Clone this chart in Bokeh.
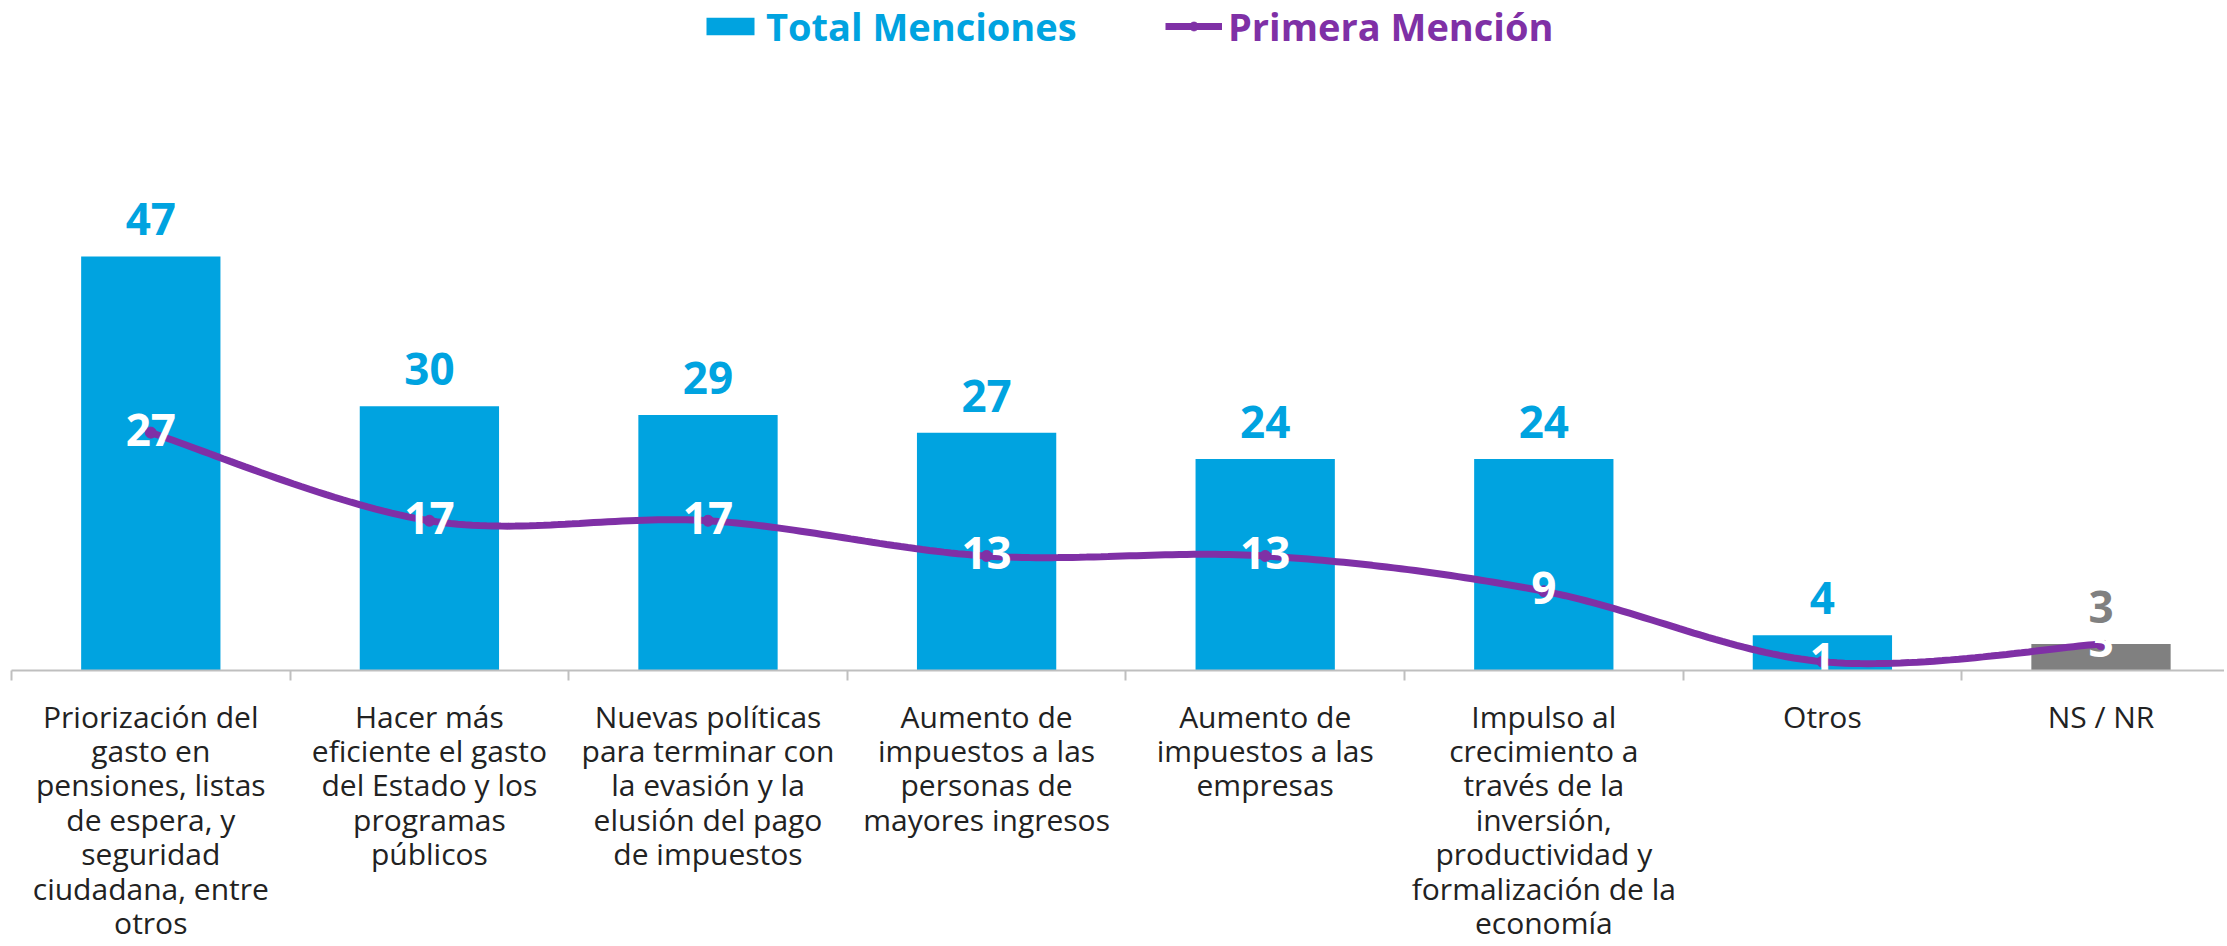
import numpy as np
from bokeh.plotting import figure
from bokeh.models import ColumnDataSource, Range1d, LinearAxis, FixedTicker, Legend, LegendItem
from bokeh.embed import file_html
from bokeh.resources import INLINE
from bokeh.core.properties import value

# ---------------- data ----------------
categories = [
    "Priorización del\ngasto en\npensiones, listas\nde espera, y\nseguridad\nciudadana, entre\notros",
    "Hacer más\neficiente el gasto\ndel Estado y los\nprogramas\npúblicos",
    "Nuevas políticas\npara terminar con\nla evasión y la\nelusión del pago\nde impuestos",
    "Aumento de\nimpuestos a las\npersonas de\nmayores ingresos",
    "Aumento de\nimpuestos a las\nempresas",
    "Impulso al\ncrecimiento a\ntravés de la\ninversión,\nproductividad y\nformalización de la\neconomía",
    "Otros",
    "NS / NR",
]
total_menciones = [47, 30, 29, 27, 24, 24, 4, 3]
primera_mencion = [27, 17, 17, 13, 13, 9, 1, 3]

# ---------------- style ----------------
BLUE = "#00A3E0"
PURPLE = "#7F30A6"
GRAY = "#808080"
AXIS = "#BFBFBF"
FONT = "Open Sans"

W, H = 2224, 944
CAT_PX = 278.6      # pixels per category
Y_PX = 8.81         # pixels per unit
LEFT_PAD = 11.0     # px from canvas left to first boundary
BASE = 670.0        # px from canvas top to baseline

n = len(categories)
xs = np.arange(n) + 0.5
bar_colors = [GRAY if c == "NS / NR" else BLUE for c in categories]

src = ColumnDataSource(dict(
    x=xs, cat=categories, total=total_menciones, prim=primera_mencion,
    total_s=[str(v) for v in total_menciones], prim_s=[str(v) for v in primera_mencion],
    color=bar_colors, zero=[0] * n,
))

# smooth line (Excel-like cardinal bezier, computed in screen space)
P = np.column_stack([xs * CAT_PX, np.array(primera_mencion, float) * Y_PX])
cx, cy = [], []
t = np.linspace(0, 1, 40)
for i in range(n - 1):
    p0 = P[i - 1] if i > 0 else P[i]
    p1, p2 = P[i], P[i + 1]
    p3 = P[i + 2] if i + 2 < n else P[i + 1]
    c1 = p1 + (p2 - p0) / 6.0
    c2 = p2 - (p3 - p1) / 6.0
    b = ((1 - t) ** 3)[:, None] * p1 + (3 * (1 - t) ** 2 * t)[:, None] * c1 \
        + (3 * (1 - t) * t ** 2)[:, None] * c2 + (t ** 3)[:, None] * p2
    cx.extend(b[:, 0] / CAT_PX)
    cy.extend(b[:, 1] / Y_PX)
curve = ColumnDataSource(dict(x=cx, y=cy))

p = figure(
    width=W, height=H,
    x_range=Range1d(-LEFT_PAD / CAT_PX, (W - LEFT_PAD) / CAT_PX),
    y_range=Range1d(-(H - BASE) / Y_PX, BASE / Y_PX),
    output_backend="svg", toolbar_location=None,
    x_axis_type=None, y_axis_type=None, min_border=0,
)
p.outline_line_color = None
p.grid.visible = False
p.background_fill_color = "white"
p.border_fill_color = "white"

bars = p.vbar(x="x", top="total", width=0.5, fill_color="color", line_color=None, source=src)

xaxis = LinearAxis(
    ticker=FixedTicker(ticks=[], minor_ticks=list(range(n + 1))), fixed_location=0, bounds=(0, n),
    axis_line_color=AXIS, axis_line_width=2,
    major_tick_line_color=None, minor_tick_line_color=AXIS, minor_tick_line_width=2,
    minor_tick_out=10, minor_tick_in=0,
)
p.add_layout(xaxis, "below")

line = p.line(x="x", y="y", source=curve, line_color=PURPLE, line_width=7)
dots = p.scatter(x="x", y="prim", source=src, size=11, marker="circle",
                 fill_color=PURPLE, line_color=PURPLE)

# bar value labels
p.text(x="x", y="total", text="total_s", source=src, text_align="center",
       text_baseline="alphabetic", y_offset=-37, text_font=value(FONT),
       text_font_style="bold", text_font_size="44px", text_color="color")
# line value labels
p.text(x="x", y="prim", text="prim_s", source=src, text_align="center",
       text_baseline="alphabetic", y_offset=-3, text_font=value(FONT),
       text_font_style="bold", text_font_size="44px", text_color="white")
# category labels
p.text(x="x", y="zero", text="cat", source=src, text_align="center",
       text_baseline="top", y_offset=25, text_font=value(FONT),
       text_font_size="30px", text_line_height=0.84, text_color="#222222")

common = dict(orientation="horizontal", padding=0, margin=0, spacing=0,
              border_line_color=None, background_fill_alpha=0,
              label_text_font=FONT, label_text_font_size="38px",
              label_text_font_style="bold", glyph_height=22, label_standoff=6)
leg1 = Legend(items=[LegendItem(label="Total Menciones", renderers=[bars], index=0)],
              location=(700, H - 52), glyph_width=60, label_text_color=BLUE, **common)
leg2 = Legend(items=[LegendItem(label="Primera Mención", renderers=[line, dots])],
              location=(1165, H - 52), glyph_width=57, label_text_color=PURPLE, **common)
p.add_layout(leg1)
p.add_layout(leg2)

open("out.html", "w").write(file_html(p, INLINE))
